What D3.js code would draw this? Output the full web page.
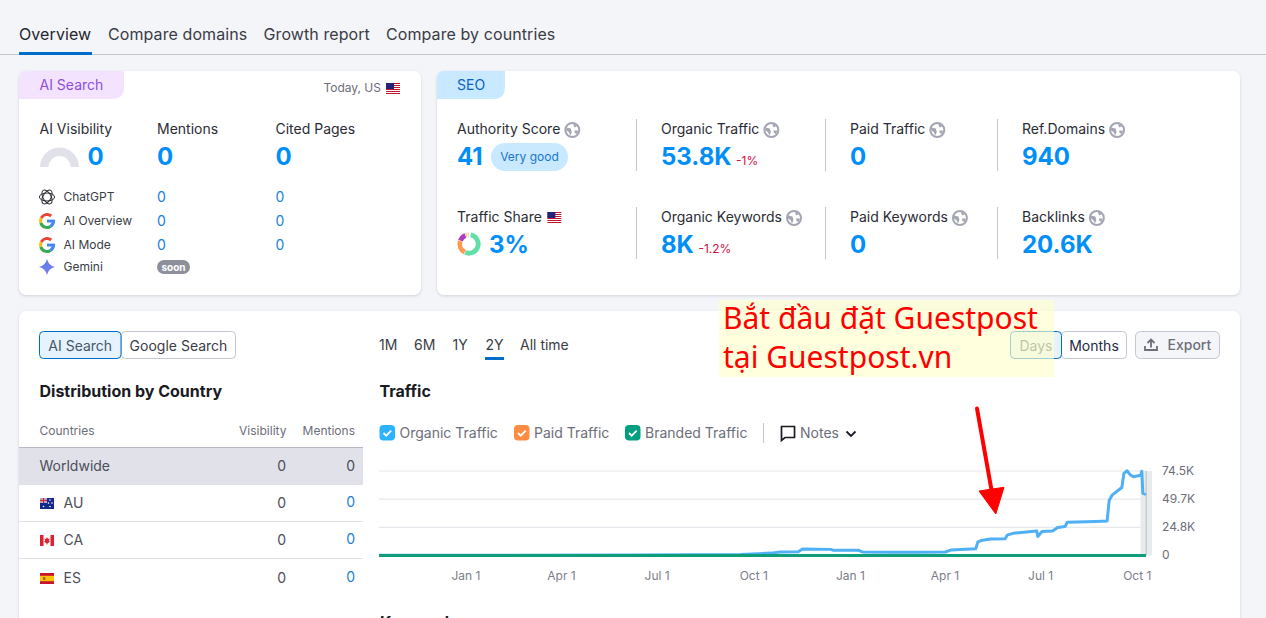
<!DOCTYPE html>
<html>
<head>
<meta charset="utf-8">
<script src="https://cdn.jsdelivr.net/npm/d3@7"></script>
<style>
  html, body { margin: 0; padding: 0; background: #f4f5f9; overflow: hidden; }
  svg { display: block; font-family: Inter, "Noto Sans", sans-serif; }
  .card { filter: drop-shadow(0 1px 1.5px rgba(25, 30, 60, 0.16)); }
  .domain { display: none; }
</style>
</head>
<body>
<svg id="page" width="1266" height="618"></svg>
<script>
// values
const navTabs = ["Overview", "Compare domains", "Growth report", "Compare by countries"];
const aiHeaders = ["AI Visibility", "Mentions", "Cited Pages"];
const aiTotals = [0, 0, 0];
const aiSources = ["ChatGPT", "AI Overview", "AI Mode", "Gemini"];
const aiMentions = [0, 0, 0];
const aiCited = [0, 0, 0];

const seoTopLabels = ["Authority Score", "Organic Traffic", "Paid Traffic", "Ref.Domains"];
const seoTopValues = ["41", "53.8K", "0", "940"];
const seoTopDeltas = ["", "-1%", "", ""];
const seoBottomLabels = ["Traffic Share", "Organic Keywords", "Paid Keywords", "Backlinks"];
const seoBottomValues = ["3%", "8K", "0", "20.6K"];
const seoBottomDeltas = ["", "-1.2%", "", ""];
const shareSlices = [56, 24, 14, 3, 3];
const shareColors = ["#62dfa8", "#ff9a4d", "#b03cc0", "#f4cf5a", "#d5d7de"];

const countries = ["AU", "CA", "ES"];
const countryVisibility = [0, 0, 0];
const countryMentions = [0, 0, 0];
const periods = ["1M", "6M", "1Y", "2Y", "All time"];
const legendNames = ["Organic Traffic", "Paid Traffic", "Branded Traffic"];
const legendColors = ["#2bb3ff", "#ff8c43", "#009f81"];

const trafficDates = ["2023-10-10", "2024-01-01", "2024-06-15", "2024-09-18", "2024-10-17", "2024-10-26", "2024-11-12",
  "2024-11-16", "2024-12-13", "2024-12-15", "2025-01-08", "2025-01-12", "2025-02-06", "2025-03-08", "2025-04-01",
  "2025-04-06", "2025-04-30", "2025-05-02", "2025-05-05", "2025-05-14", "2025-05-28", "2025-05-30", "2025-06-05",
  "2025-06-27", "2025-06-28", "2025-07-02", "2025-07-12", "2025-07-17", "2025-07-24", "2025-07-26", "2025-08-22",
  "2025-09-02", "2025-09-04", "2025-09-07", "2025-09-16", "2025-09-18", "2025-09-21", "2025-09-24", "2025-09-27",
  "2025-10-04", "2025-10-05", "2025-10-06", "2025-10-09"];
const organicTraffic = [300, 300, 400, 900, 2100, 3100, 3300,
  5700, 5400, 4700, 4700, 3100, 2800, 2800, 3100,
  4800, 6000, 12000, 13200, 14500, 14800, 18000, 19700,
  21500, 16700, 21100, 21700, 24700, 25500, 29300, 30000,
  30500, 48800, 53500, 60000, 72400, 74700, 71000, 69500,
  70800, 74300, 54900, 53900];
const brandedDates = ["2023-10-10", "2025-10-09"];
const brandedTraffic = [0, 0];
const xTickDates = ["2024-01-01", "2024-04-01", "2024-07-01", "2024-10-01", "2025-01-01", "2025-04-01", "2025-07-01", "2025-10-01"];
const yTickValues = [0, 24800, 49700, 74500];
const yTickLabels = ["0", "24.8K", "49.7K", "74.5K"];
const noteLines = ["Bắt đầu đặt Guestpost", "tại Guestpost.vn"];

const INK = "#191b23", GREY = "#6c6e79", BLUE = "#008ff8", LINK = "#1a7fd4", LINE = "#e0e1e9";
const svg = d3.select("#page");
const parseDay = d3.utcParse("%Y-%m-%d");

function label(g, x, y, str, size, color, opts = {}) {
  return g.append("text").attr("x", x).attr("y", y).text(str)
    .attr("font-size", size).attr("fill", color)
    .attr("font-weight", opts.weight || 400)
    .attr("text-anchor", opts.anchor || "start")
    .attr("letter-spacing", opts.spacing || null)
    .attr("font-family", opts.family || null);
}

function card(x, y, w, h) {
  svg.append("rect").attr("class", "card").attr("x", x).attr("y", y).attr("width", w).attr("height", h)
    .attr("rx", 7).attr("fill", "#fff");
}

function badge(x, y, w, h, fill) {
  // top left follows the card corner, bottom right is the big round one
  const r = 7, R = 12;
  svg.append("path").attr("fill", fill)
    .attr("d", `M${x},${y + r}Q${x},${y} ${x + r},${y}H${x + w}V${y + h - R}Q${x + w},${y + h} ${x + w - R},${y + h}H${x}Z`);
}

function usFlag(x, y) {
  const g = svg.append("g").attr("transform", `translate(${x},${y})`);
  g.append("rect").attr("width", 14).attr("height", 11).attr("fill", "#fff");
  d3.range(0, 6).forEach(i => g.append("rect").attr("y", i * 2).attr("width", 14).attr("height", 1).attr("fill", "#c3142d"));
  g.append("rect").attr("width", 8).attr("height", 6).attr("fill", "#23237a");
}

function flag(code, x, y) {
  const g = svg.append("g").attr("transform", `translate(${x},${y})`);
  if (code === "AU") {
    g.append("rect").attr("width", 14).attr("height", 11).attr("fill", "#14288c");
    g.append("rect").attr("width", 7).attr("height", 5).attr("fill", "#b8a6bd");
    g.append("path").attr("d", "M3.5,0V5M0,2.5H7").attr("stroke", "#d2203a").attr("stroke-width", 1);
    [[3.5, 8.5], [10, 2], [12, 5], [10, 8.5], [8.5, 5]].forEach(p =>
      g.append("circle").attr("cx", p[0]).attr("cy", p[1]).attr("r", 0.8).attr("fill", "#fff"));
  } else if (code === "CA") {
    g.append("rect").attr("width", 14).attr("height", 11).attr("fill", "#fff");
    g.append("rect").attr("width", 3.5).attr("height", 11).attr("fill", "#e0202f");
    g.append("rect").attr("x", 10.5).attr("width", 3.5).attr("height", 11).attr("fill", "#e0202f");
    g.append("path").attr("d", "M7,2L8,4L9.5,3.6L9,6L10,6.4L7.4,8.4V9.5H6.6V8.4L4,6.4L5,6L4.5,3.6L6,4Z").attr("fill", "#e0202f");
  } else {
    g.append("rect").attr("width", 14).attr("height", 11).attr("fill", "#c8142c");
    g.append("rect").attr("y", 2.8).attr("width", 14).attr("height", 5.4).attr("fill", "#fbc400");
    g.append("rect").attr("x", 3).attr("y", 4).attr("width", 2.4).attr("height", 3).attr("fill", "#b5652c");
  }
}

function globe(x, y) {
  const g = svg.append("g").attr("transform", `translate(${x},${y})`);
  g.append("circle").attr("r", 7).attr("fill", "#fff").attr("stroke", "#a4a6b3").attr("stroke-width", 2);
  g.append("path").attr("fill", "#a4a6b3").attr("d", "M-6,-2.5L-1.5,-1.5L-0.5,2L-2,5.5L-3.5,2L-6,0.5Z");
  g.append("path").attr("fill", "#a4a6b3").attr("d", "M1,-6.5L5,-4L2.5,-2.5L1.5,-4ZM2,0.5H6L4.5,4L2.5,3Z");
}

function googleLogo(x, y) {
  const g = svg.append("g").attr("transform", `translate(${x},${y})`);
  const ring = d3.arc().innerRadius(5).outerRadius(8);
  const deg = Math.PI / 180;
  [["#ea4335", -62, 40], ["#fbbc05", -108, -62], ["#34a853", -215, -108], ["#4285f4", -270, -215]]
    .forEach(([c, a, b]) => g.append("path").attr("fill", c).attr("d", ring({ startAngle: a * deg, endAngle: b * deg })));
  g.append("rect").attr("x", 0).attr("y", -1.4).attr("width", 8).attr("height", 2.9).attr("fill", "#4285f4");
}

function chatgptLogo(x, y) {
  const g = svg.append("g").attr("transform", `translate(${x},${y})`).attr("fill", "none").attr("stroke", "#2b2c33").attr("stroke-width", 1);
  [0, 60, 120].forEach(a => g.append("ellipse").attr("rx", 7.6).attr("ry", 4).attr("transform", `rotate(${a})`));
}

function geminiStar(x, y) {
  const defs = svg.append("defs").append("linearGradient").attr("id", "gem").attr("x1", 0).attr("y1", 0).attr("x2", 1).attr("y2", 1);
  defs.append("stop").attr("offset", 0).attr("stop-color", "#4b83f0");
  defs.append("stop").attr("offset", 1).attr("stop-color", "#8a78e8");
  svg.append("path").attr("fill", "url(#gem)").attr("transform", `translate(${x},${y})`)
    .attr("d", "M0,-8Q1.5,-1.5 8,0Q1.5,1.5 0,8Q-1.5,1.5 -8,0Q-1.5,-1.5 0,-8Z");
}

// ---- top tabs
const navX = [19, 108, 263.5, 386];
navTabs.forEach((t, i) => label(svg, navX[i], 40, t, 16, i === 0 ? "#24262e" : "#3a3c46", { spacing: 0.09 }));
svg.append("rect").attr("y", 54).attr("width", 1266).attr("height", 1).attr("fill", "#c4c7cf");
svg.append("rect").attr("x", 19).attr("y", 52).attr("width", 73).attr("height", 3).attr("fill", "#006dca");

// ---- AI Search card
card(19, 71, 402, 224);
badge(19, 71, 105, 28, "#f3e3ff");
label(svg, 39.5, 90, "AI Search", 14, "#8d4fe0");
label(svg, 381, 92, "Today, US", 12, GREY, { anchor: "end" });
usFlag(386, 83);

const aiX = [39.5, 157, 275.5];
aiHeaders.forEach((t, i) => label(svg, aiX[i], 134, t, 14, "#2a2c35"));
aiTotals.forEach((v, i) => label(svg, i === 0 ? 87.5 : aiX[i], 165, v, 24, BLUE, { weight: 700 }));

const gauge = d3.arc().innerRadius(11).outerRadius(19.5).startAngle(-Math.PI / 2).endAngle(Math.PI / 2);
svg.append("path").attr("d", gauge()).attr("transform", "translate(59.5,167)").attr("fill", LINE);

const aiRowY = [201, 225, 249, 271];
aiSources.forEach((t, i) => label(svg, 63.5, aiRowY[i], t, 12, "#3a3c46"));
aiMentions.forEach((v, i) => label(svg, 157, aiRowY[i] + 1, v, 14, LINK));
aiCited.forEach((v, i) => label(svg, 275.5, aiRowY[i] + 1, v, 14, LINK));
chatgptLogo(47, 197);
googleLogo(47, 221);
googleLogo(47, 245);
geminiStar(47, 267);
svg.append("rect").attr("x", 157).attr("y", 260).attr("width", 33).attr("height", 14).attr("rx", 7).attr("fill", "#8e8f9c");
label(svg, 173.5, 271, "soon", 10, "#fff", { weight: 700, anchor: "middle" });

// ---- SEO card
card(437, 71, 803, 224);
badge(437, 71, 68, 28, "#c8e9ff");
label(svg, 457, 90, "SEO", 14, "#0b63c4");

const seoX = [457, 661, 850, 1022];
const seoDivX = [636.5, 825.5, 997.5];
function seoRow(labels, values, deltas, labelY, valueY, top) {
  labels.forEach((t, i) => {
    const node = label(svg, seoX[i], labelY, t, 14, "#2a2c35").node();
    if (t === "Traffic Share") usFlag(seoX[i] + node.getComputedTextLength() + 5.5, labelY - 10);
    else globe(seoX[i] + node.getComputedTextLength() + 12, labelY - 4);
  });
  values.forEach((v, i) => {
    const x = v === "3%" ? 489 : seoX[i];
    const node = label(svg, x, valueY, v, 24, BLUE, { weight: 700 }).node();
    if (deltas[i]) label(svg, x + node.getComputedTextLength() + 4.5, valueY, deltas[i], 12, "#d1103f");
  });
  seoDivX.forEach(x => svg.append("line").attr("x1", x).attr("x2", x).attr("y1", top).attr("y2", top + 52).attr("stroke", "#c4c7cf"));
}
seoRow(seoTopLabels, seoTopValues, seoTopDeltas, 134, 165, 119);
seoRow(seoBottomLabels, seoBottomValues, seoBottomDeltas, 222, 253, 207);

svg.append("rect").attr("x", 491).attr("y", 143).attr("width", 77).attr("height", 28).attr("rx", 14).attr("fill", "#c8e9ff");
label(svg, 529.5, 161, "Very good", 12, "#1a76cc", { anchor: "middle" });

const pie = d3.pie().sort(null).startAngle(0.15);
const shareArc = d3.arc().innerRadius(6.8).outerRadius(11.6).padAngle(0.04);
svg.append("g").attr("transform", "translate(469,244)").selectAll("path")
  .data(pie(shareSlices)).join("path")
  .attr("d", shareArc).attr("fill", (d, i) => shareColors[i]);

// ---- lower card
card(19, 311, 1221, 340);

function button(x, w, text, fill, border, color) {
  svg.append("rect").attr("x", x + 0.5).attr("y", 331.5).attr("width", w).attr("height", 27).attr("rx", 4)
    .attr("fill", fill).attr("stroke", border);
  label(svg, x + w / 2 + 0.5, 351, text, 14, color, { anchor: "middle" });
}
button(121, 114, "Google Search", "#fff", "#c4c7cf", "#3a3c46");
button(39, 81.5, "AI Search", "#e4f3ff", "#006dca", "#4a5568");
button(1061, 65, "Months", "#fff", "#c4c7cf", "#1d2a44");
button(1010, 51, "Days", "#e4f3ff", "#006dca", "#4a5568");
svg.append("rect").attr("x", 1135.5).attr("y", 331.5).attr("width", 84).attr("height", 27).attr("rx", 5)
  .attr("fill", "#f4f5f9").attr("stroke", "#c4c7cf");
label(svg, 1167.5, 350, "Export", 14, GREY, { weight: 500 });
svg.append("path").attr("fill", "none").attr("stroke", GREY).attr("stroke-width", 1.8)
  .attr("d", "M1145,346V350H1157V346M1151,347.5V339.5M1147.5,343L1151,339.5L1154.5,343");

// country table
label(svg, 39.5, 397, "Distribution by Country", 16, INK, { weight: 700 });
label(svg, 39.5, 435, "Countries", 12, GREY);
label(svg, 286.5, 435, "Visibility", 12, GREY, { anchor: "end" });
label(svg, 355, 435, "Mentions", 12, GREY, { anchor: "end" });
svg.append("rect").attr("x", 19).attr("y", 447).attr("width", 344).attr("height", 38).attr("fill", LINE);
svg.append("rect").attr("x", 19).attr("y", 447).attr("width", 344).attr("height", 1).attr("fill", "#b8bac5");
label(svg, 39.5, 471, "Worldwide", 14, "#4c4e58");
label(svg, 286, 471, "0", 14, "#4c4e58", { anchor: "end" });
label(svg, 355, 471, "0", 14, "#4c4e58", { anchor: "end" });
const rowY = [508, 545, 583];
countries.forEach((c, i) => {
  flag(c, 40, rowY[i] - 10);
  label(svg, 63.5, rowY[i], c, 14, "#4c4e58");
});
countryVisibility.forEach((v, i) => label(svg, 286, rowY[i], v, 14, "#4c4e58", { anchor: "end" }));
countryMentions.forEach((v, i) => label(svg, 355, rowY[i] - 1, v, 14, LINK, { anchor: "end" }));
[521, 558].forEach(y => svg.append("rect").attr("x", 19).attr("y", y).attr("width", 344).attr("height", 1).attr("fill", LINE));

// period tabs, title, legend
const periodX = [379, 414, 452.5, 485.5, 520];
periods.forEach((t, i) => label(svg, periodX[i], 350, t, 14, "#3a3c46"));
svg.append("rect").attr("x", 485).attr("y", 357).attr("width", 19).attr("height", 3).attr("fill", "#006dca");
label(svg, 379.5, 397, "Traffic", 16, INK, { weight: 700 });

const legendBoxX = [379.5, 514, 625];
legendNames.forEach((t, i) => {
  const x = legendBoxX[i];
  svg.append("rect").attr("x", x).attr("y", 425).attr("width", 15.5).attr("height", 15.5).attr("rx", 4).attr("fill", legendColors[i]);
  svg.append("path").attr("fill", "none").attr("stroke", "#fff").attr("stroke-width", 1.8)
    .attr("d", `M${x + 4},${433}l2.7,2.7l5,-5`);
  label(svg, x + 20, 438, t, 14, GREY);
});
svg.append("line").attr("x1", 763.5).attr("x2", 763.5).attr("y1", 423).attr("y2", 443).attr("stroke", "#c4c7cf");
svg.append("path").attr("fill", "none").attr("stroke", INK).attr("stroke-width", 1.7)
  .attr("d", "M781.5,426.5H794.5V437.5H785L781.5,440.5Z");
label(svg, 800, 438, "Notes", 14, GREY);
svg.append("path").attr("fill", "none").attr("stroke", INK).attr("stroke-width", 1.8).attr("d", "M846.5,431.5L851,436L855.5,431.5");

// ---- traffic chart
const x = d3.scaleUtc().domain([parseDay("2023-10-10"), parseDay("2025-10-09")]).range([379, 1146]);
const y = d3.scaleLinear().domain([0, 74500]).range([555.5, 471]);

svg.append("g").selectAll("line").data(yTickValues.slice(1)).join("line")
  .attr("x1", x.range()[0]).attr("x2", x.range()[1])
  .attr("y1", d => y(d)).attr("y2", d => y(d))
  .attr("stroke", "#e6e7ec").attr("stroke-width", 1.2);

// hover band over the last day
const bandX = x(parseDay("2025-10-09"));
svg.append("rect").attr("x", bandX - 5.5).attr("y", y(74500)).attr("width", 11.5).attr("height", y(0) - y(74500))
  .attr("fill", "#e8ebeb");
svg.append("rect").attr("x", bandX - 0.5).attr("y", y(74500)).attr("width", 1.5).attr("height", y(0) - y(74500))
  .attr("fill", "#c9cdd0");

const xAxis = d3.axisBottom(x).tickValues(xTickDates.map(parseDay)).tickSize(0).tickPadding(0)
  .tickFormat(d3.utcFormat("%b %-d"));
svg.append("g").attr("transform", "translate(-0.8,571)").call(xAxis)
  .call(g => g.selectAll("text").attr("font-size", 12).attr("fill", "#7b7d88").attr("font-family", "Inter"));

const yAxis = d3.axisRight(y).tickValues(yTickValues).tickSize(0).tickPadding(0)
  .tickFormat((d, i) => yTickLabels[i]);
svg.append("g").attr("transform", "translate(1162,-0.4)").call(yAxis)
  .call(g => g.selectAll("text").attr("font-size", 12).attr("fill", "#6c6e79").attr("font-family", "Inter"));

const line = d3.line().x(d => x(d[0])).y(d => y(d[1]));
svg.append("path")
  .datum(trafficDates.map((d, i) => [parseDay(d), organicTraffic[i]]))
  .attr("d", line).attr("fill", "none").attr("stroke", "#4fb0f5").attr("stroke-width", 3).attr("stroke-linejoin", "round");
svg.append("path")
  .datum(brandedDates.map((d, i) => [parseDay(d), brandedTraffic[i]]))
  .attr("d", line).attr("fill", "none").attr("stroke", "#0f9d7a").attr("stroke-width", 3.2);

label(svg, 380, 628, "Keywords", 16, INK, { weight: 700 });

// ---- pasted note and arrow
svg.append("rect").attr("x", 719).attr("y", 300).attr("width", 335).attr("height", 77).attr("fill", "#ffffcb").attr("fill-opacity", 0.65);
noteLines.forEach((t, i) => label(svg, 723, 329 + i * 39, t, 30, "#ff0000", { family: "Noto Sans" }));
svg.append("line").attr("x1", 977).attr("y1", 408.5).attr("x2", 991.5).attr("y2", 490)
  .attr("stroke", "#ff0000").attr("stroke-width", 4).attr("stroke-linecap", "round");
svg.append("path").attr("fill", "#ff0000").attr("stroke", "#ff0000").attr("stroke-linejoin", "round")
  .attr("d", "M979,491L1004,487.3L995.8,514Z");
</script>
</body>
</html>
